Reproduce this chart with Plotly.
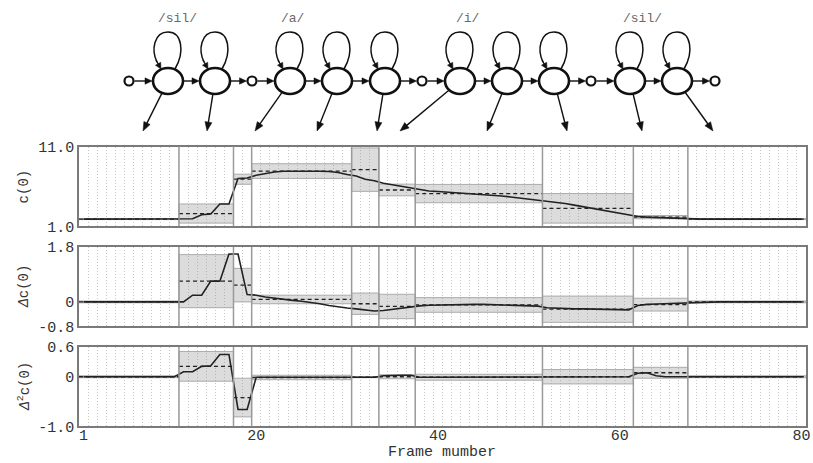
import math
import plotly.graph_objects as go

# ---------------- data ----------------
frames = list(range(1, 81))

c0 = [
    1.90, 1.90, 1.90, 1.90, 1.90, 1.90, 1.90, 1.90, 1.90, 1.90,
    1.90, 1.90, 1.95, 2.45, 2.55, 3.80, 3.80, 7.00, 7.05, 7.40,
    7.60, 7.80, 7.90, 7.92, 7.92, 7.92, 7.90, 7.86, 7.75, 7.50,
    7.30, 6.90, 6.70, 6.40, 6.20, 6.05, 5.85, 5.62, 5.42, 5.37,
    5.30, 5.22, 5.14, 5.06, 4.98, 4.92, 4.80, 4.68, 4.55, 4.45,
    4.30, 4.16, 4.07, 3.86, 3.65, 3.45, 3.28, 3.10, 2.90, 2.70,
    2.50, 2.23, 2.15, 2.10, 2.05, 2.02, 2.00, 1.90, 1.90, 1.90,
    1.90, 1.90, 1.90, 1.90, 1.90, 1.90, 1.90, 1.90, 1.90, 1.90,
]

dc0 = [
    0.00, 0.00, 0.00, 0.00, 0.00, 0.00, 0.00, 0.00, 0.00, 0.00,
    0.00, 0.00, 0.22, 0.22, 0.68, 0.68, 1.57, 1.57, 0.24, 0.22,
    0.16, 0.12, 0.07, 0.05, 0.02, -0.01, -0.06, -0.12, -0.17, -0.20,
    -0.23, -0.27, -0.30, -0.28, -0.24, -0.20, -0.17, -0.13, -0.11, -0.10,
    -0.09, -0.08, -0.08, -0.08, -0.08, -0.09, -0.09, -0.10, -0.11, -0.12,
    -0.14, -0.19, -0.21, -0.22, -0.23, -0.23, -0.24, -0.24, -0.25, -0.25,
    -0.26, -0.12, -0.08, -0.07, -0.06, -0.05, -0.04, -0.01, 0.00, 0.00,
    0.00, 0.00, 0.00, 0.00, 0.00, 0.00, 0.00, 0.00, 0.00, 0.00,
]

ddc0 = [
    0.00, 0.00, 0.00, 0.00, 0.00, 0.00, 0.00, 0.00, 0.00, 0.00,
    0.00, 0.10, 0.10, 0.21, 0.22, 0.45, 0.45, -0.66, -0.66, -0.01,
    -0.01, -0.01, -0.01, -0.01, -0.01, -0.01, -0.01, -0.01, -0.01, -0.01,
    -0.01, -0.01, -0.01, 0.02, 0.03, 0.03, 0.03, -0.01, -0.01, -0.01,
    -0.01, -0.01, -0.01, -0.01, -0.01, -0.01, -0.01, -0.01, -0.01, -0.01,
    -0.01, 0.00, 0.00, 0.00, 0.00, 0.00, 0.00, 0.00, 0.00, 0.00,
    0.00, 0.07, 0.08, 0.02, 0.00, 0.00, 0.00, 0.00, 0.00, 0.00,
    0.00, 0.00, 0.00, 0.00, 0.00, 0.00, 0.00, 0.00, 0.00, 0.00,
]

# state segments (first / last frame of each HMM state)
seg_start = [1, 12, 18, 20, 31, 34, 38, 52, 62, 68]
seg_end = [11, 17, 19, 30, 33, 37, 51, 61, 67, 80]

c0_mean = [1.90, 2.60, 6.90, 7.92, 8.10, 5.55, 5.10, 3.25, 2.15, 1.90]
c0_std = [0.06, 1.20, 0.63, 0.92, 2.72, 0.73, 1.15, 1.85, 0.20, 0.06]

dc0_mean = [0.00, 0.68, 0.55, 0.08, -0.06, -0.15, -0.10, -0.24, -0.09, 0.00]
dc0_std = [0.03, 0.87, 0.55, 0.14, 0.35, 0.40, 0.24, 0.43, 0.21, 0.03]

ddc0_mean = [0.00, 0.21, -0.42, -0.015, -0.01, 0.00, -0.01, 0.00, 0.08, 0.00]
ddc0_std = [0.02, 0.30, 0.39, 0.045, 0.01, 0.04, 0.06, 0.145, 0.11, 0.02]

panel_titles = ["c(0)", "<i>Δ</i>c(0)", "<i>Δ</i><sup>2</sup>c(0)"]
panel_ranges = [[1.0, 11.0], [-0.8, 1.8], [-1.0, 0.6]]
panel_tickvals = [[1.0, 11.0], [-0.8, 0.0, 1.8], [-1.0, 0.0, 0.6]]
panel_ticktext = [["1.0", "11.0"], ["-0.8", "0", "1.8"], ["-1.0", "0", "0.6"]]
x_tickvals = [1, 20, 40, 60, 80]
x_title = "Frame mumber"

phonemes = ["/sil/", "/a/", "/i/", "/sil/"]

# ---------------- layout geometry (pixels) ----------------
W, H = 813, 463
PX_L, PX_R = 79, 806
panel_px = [(146.5, 226.3), (247.0, 326.3), (347.0, 426.3)]
MONO = "Liberation Mono, Courier New, monospace"
INK = "#111111"


def pxx(x):
    return x / W


def pxy(y):
    return 1 - y / H


fig = go.Figure()

series = [c0, dc0, ddc0]
means = [c0_mean, dc0_mean, ddc0_mean]
stds = [c0_std, dc0_std, ddc0_std]

layout_axes = {}
shapes = []
annotations = []

for p in range(3):
    xa = "x" if p == 0 else f"x{p+1}"
    ya = "y" if p == 0 else f"y{p+1}"
    for s, e, m, sd in zip(seg_start, seg_end, means[p], stds[p]):
        fig.add_trace(go.Scatter(
            x=[s - 0.5, e + 0.5, e + 0.5, s - 0.5, s - 0.5],
            y=[m - sd, m - sd, m + sd, m + sd, m - sd],
            mode="lines", fill="toself",
            fillcolor="rgba(140,140,140,0.30)",
            line=dict(color="#ababab", width=1),
            xaxis=xa, yaxis=ya, hoverinfo="skip", showlegend=False))
    for s, e, m in zip(seg_start, seg_end, means[p]):
        fig.add_trace(go.Scatter(
            x=[s - 0.5, e + 0.5], y=[m, m], mode="lines",
            line=dict(color="#222222", width=1.3, dash="4px,3px"),
            xaxis=xa, yaxis=ya, hoverinfo="skip", showlegend=False))
    fig.add_trace(go.Scatter(
        x=frames, y=series[p], mode="lines",
        line=dict(color="#222222", width=1.6),
        xaxis=xa, yaxis=ya, showlegend=False))
    for e in seg_end[:-1]:
        shapes.append(dict(type="line", xref=xa, yref=f"{ya} domain",
                           x0=e + 0.5, x1=e + 0.5, y0=0, y1=1,
                           line=dict(color="#9a9a9a", width=1.5), layer="above"))

    top, bot = panel_px[p]
    xkey = "xaxis" if p == 0 else f"xaxis{p+1}"
    ykey = "yaxis" if p == 0 else f"yaxis{p+1}"
    layout_axes[xkey] = dict(
        domain=[pxx(PX_L), pxx(PX_R)], anchor=ya, range=[0.5, 80.5],
        showline=True, mirror=True, linecolor="#7a7a7a", linewidth=1.5,
        showgrid=False, zeroline=False, ticks="",
        tickmode="array", tickvals=x_tickvals,
        showticklabels=(p == 2), automargin=False,
        ticklabelstandoff=-6,
        tickfont=dict(family=MONO, size=15, color="#333333"),
        minor=dict(tickmode="linear", tick0=0.5, dtick=1, showgrid=True,
                   gridcolor="#c8c8c8", griddash="1px,2px", gridwidth=1, ticks=""),
    )
    if p > 0:
        layout_axes[xkey]["matches"] = "x"
    layout_axes[ykey] = dict(
        domain=[pxy(bot), pxy(top)], anchor=xa,
        range=[panel_ranges[p][0] - 1e-6, panel_ranges[p][1] + 1e-6],
        tickmode="array", tickvals=panel_tickvals[p], ticktext=panel_ticktext[p],
        showline=True, mirror=True, linecolor="#7a7a7a", linewidth=1.5,
        showgrid=False, zeroline=False, ticks="", automargin=False,
        tickfont=dict(family=MONO, size=15, color="#333333"),
    )
    annotations.append(dict(
        text=panel_titles[p], xref="paper", yref="paper",
        x=pxx(24), y=pxy((top + bot) / 2), textangle=-90,
        showarrow=False, font=dict(family=MONO, size=14, color="#333333"),
        xanchor="center", yanchor="middle"))

annotations.append(dict(
    text=x_title, xref="paper", yref="paper", x=pxx((PX_L + PX_R) / 2),
    y=pxy(463), showarrow=False, xanchor="center", yanchor="bottom",
    font=dict(family=MONO, size=15, color="#333333")))

# ---------------- HMM diagram (decoration) ----------------
node_x = [129, 168, 215, 252, 290, 337, 385, 422, 460, 507, 554, 591, 630, 677, 715]
node_state = [False, True, True, False, True, True, True, False,
              True, True, True, False, True, True, False]
CY = 81
RX, RY = 15, 13
RS = 4.5
arrow_tx = [143, 207, 255, 317, 377, 400, 487, 567, 642, 713]
arrow_ty = 131
label_x = [177, 293, 468, 642]
label_y = 18


def arrow(tx0, ty0, hx, hy, L=8.0, w=3.2, lw=1.4):
    """line + filled triangular head, pixel coordinates"""
    dx, dy = hx - tx0, hy - ty0
    d = math.hypot(dx, dy)
    ux, uy = dx / d, dy / d
    bx, by = hx - L * ux, hy - L * uy
    nx, ny = -uy, ux
    shapes.append(dict(type="line", xref="paper", yref="paper",
                       x0=pxx(tx0), y0=pxy(ty0), x1=pxx(bx + ux), y1=pxy(by + uy),
                       line=dict(color=INK, width=lw)))
    path = (f"M {pxx(hx)},{pxy(hy)} L {pxx(bx + w * nx)},{pxy(by + w * ny)} "
            f"L {pxx(bx - w * nx)},{pxy(by - w * ny)} Z")
    shapes.append(dict(type="path", xref="paper", yref="paper", path=path,
                       fillcolor=INK, line=dict(color=INK, width=0.5)))


for x, st in zip(node_x, node_state):
    rx, ry = (RX, RY) if st else (RS, RS)
    shapes.append(dict(type="circle", xref="paper", yref="paper",
                       x0=pxx(x - rx), x1=pxx(x + rx),
                       y0=pxy(CY + ry), y1=pxy(CY - ry),
                       line=dict(color=INK, width=2.6 if st else 2.2),
                       fillcolor="white", layer="above"))

# chain arrows
for i in range(len(node_x) - 1):
    r0 = RX if node_state[i] else RS
    r1 = RX if node_state[i + 1] else RS
    arrow(node_x[i] + r0 + 1, CY, node_x[i + 1] - r1 - 1, CY, L=7, w=3.2)

# self loops
state_x = [x for x, st in zip(node_x, node_state) if st]
for xs in state_x:
    path = (f"M {pxx(xs + 7)},{pxy(CY - RY + 1)} "
            f"C {pxx(xs + 17)},{pxy(52)} {pxx(xs + 14)},{pxy(32)} {pxx(xs)},{pxy(32)} "
            f"C {pxx(xs - 14)},{pxy(32)} {pxx(xs - 17)},{pxy(50)} {pxx(xs - 11)},{pxy(62)}")
    shapes.append(dict(type="path", xref="paper", yref="paper", path=path,
                       line=dict(color=INK, width=1.5)))
    arrow(xs - 12, 60, xs - 7, CY - RY + 1, L=6, w=3.0)

# output arrows to the frame segments
for xs, tx in zip(state_x, arrow_tx):
    dx, dy = tx - xs, arrow_ty - CY
    t = 1 / math.sqrt((dx / RX) ** 2 + (dy / RY) ** 2)
    sx, sy = xs + t * dx, CY + t * dy
    arrow(sx, sy, tx, arrow_ty, L=9, w=3.5)

for lab, lx in zip(phonemes, label_x):
    annotations.append(dict(text=lab, x=pxx(lx), y=pxy(label_y), xref="paper", yref="paper",
                            showarrow=False, xanchor="center", yanchor="middle",
                            font=dict(family=MONO, size=13, color="#6a6a6a")))

fig.update_layout(
    template="none",
    width=W, height=H, autosize=False,
    margin=dict(l=0, r=0, t=0, b=0, pad=0),
    paper_bgcolor="white", plot_bgcolor="white",
    showlegend=False,
    shapes=shapes, annotations=annotations,
    **layout_axes,
)

fig.write_html("out.html", config={"displayModeBar": False},
               post_script="document.body.style.margin='0px';document.body.style.padding='0px';")
